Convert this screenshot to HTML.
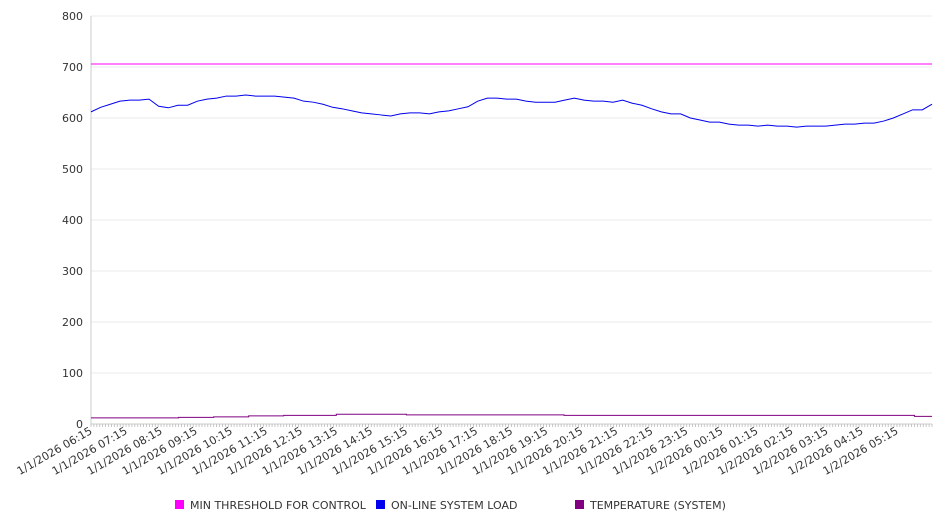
<!DOCTYPE html>
<html><head><meta charset="utf-8"><style>
body{margin:0;background:#fff;}
svg{display:block;font-family:"DejaVu Sans","Liberation Sans",sans-serif;}
</style></head><body>
<svg id="chart" width="946" height="526" xmlns="http://www.w3.org/2000/svg"></svg>
<script>
const yTicks=[0,100,200,300,400,500,600,700,800];
const xLabels=["1/1/2026 06:15","1/1/2026 07:15","1/1/2026 08:15","1/1/2026 09:15","1/1/2026 10:15","1/1/2026 11:15","1/1/2026 12:15","1/1/2026 13:15","1/1/2026 14:15","1/1/2026 15:15","1/1/2026 16:15","1/1/2026 17:15","1/1/2026 18:15","1/1/2026 19:15","1/1/2026 20:15","1/1/2026 21:15","1/1/2026 22:15","1/1/2026 23:15","1/2/2026 00:15","1/2/2026 01:15","1/2/2026 02:15","1/2/2026 03:15","1/2/2026 04:15","1/2/2026 05:15"];
const thresholdValues=[706,706];
const loadValues=[612,621,627,633,635,635,637,623,620,625,625,633,637,639,643,643,645,643,643,643,641,639,633,631,627,621,618,614,610,608,606,604,608,610,610,608,612,614,618,622,633,639,639,637,637,633,631,631,631,635,639,635,633,633,631,635,629,625,618,612,608,608,600,596,592,592,588,586,586,584,586,584,584,582,584,584,584,586,588,588,590,590,594,600,608,616,616,627];
const tempValues=[12,12,12,12,12,13,13,14,14,16,16,17,17,17,19,19,19,19,18,18,18,18,18,18,18,18,18,17,17,17,17,17,17,17,17,17,17,17,17,17,17,17,17,17,17,17,17,15,15];
const legendLabels=["MIN THRESHOLD FOR CONTROL","ON-LINE SYSTEM LOAD","TEMPERATURE (SYSTEM)"];
const legendColors=["#ff00ff","#0000ee","#800080"];

const NS="http://www.w3.org/2000/svg";
const svg=document.getElementById('chart');
const L=91,R=932,T=16,B=424;
const y=v=>B-(v/800)*(B-T);
const xf=f=>L+f*(R-L);
function el(tag,attrs,parent){const e=document.createElementNS(NS,tag);for(const k in attrs)e.setAttribute(k,attrs[k]);(parent||svg).appendChild(e);return e;}

yTicks.forEach(v=>{
  const g=el('line',{x1:L,x2:R,y1:y(v),y2:y(v),stroke:v===0?'#ccc':'#ebebeb','stroke-width':1});
  
  
  const t=el('text',{x:83,y:y(v)+4,'text-anchor':'end','font-size':11,fill:'#333'});
  t.textContent=v;
  
  
});
const ax=el('line',{x1:L,x2:L,y1:T,y2:B,stroke:'#ccc'});


for(let i=0;i<=288;i++){
  const xx=xf(i/288);
  const tk=el('line',{x1:xx,x2:xx,y1:B,y2:B+3,stroke:'#bbb','stroke-width':0.8});
  
  
}
xLabels.forEach((s,i)=>{
  const xx=xf(i/24)+2, yy=B+9;
  const t=el('text',{x:xx,y:yy,'text-anchor':'end','font-size':11,fill:'#333',transform:`rotate(-30 ${xx} ${yy})`});
  t.textContent=s;
  
  
});
function series(vals,color,name,step){
  let d='';
  vals.forEach((v,i)=>{
    const xx=xf(i/(vals.length-1));
    if(i===0)d='M'+xx+','+y(v);
    else if(step){d+=' H'+xx+' V'+y(v);}
    else d+=' L'+xx+','+y(v);
  });
  const p=el('path',{d,fill:'none',stroke:color,'stroke-width':1});
  
  
}
series(thresholdValues,legendColors[0],'threshold-line',false);
series(loadValues,legendColors[1],'system-load-line',false);
series(tempValues,legendColors[2],'temperature-line',true);

const lx=[175,376,575];
legendLabels.forEach((s,i)=>{
  const g=el('g',{});
  
  
  el('rect',{x:lx[i],y:500,width:9,height:9,fill:legendColors[i]},g);
  const t=el('text',{x:lx[i]+15,y:509,'font-size':11,fill:'#333'},g);
  t.textContent=s;
});
</script>
</body></html>
